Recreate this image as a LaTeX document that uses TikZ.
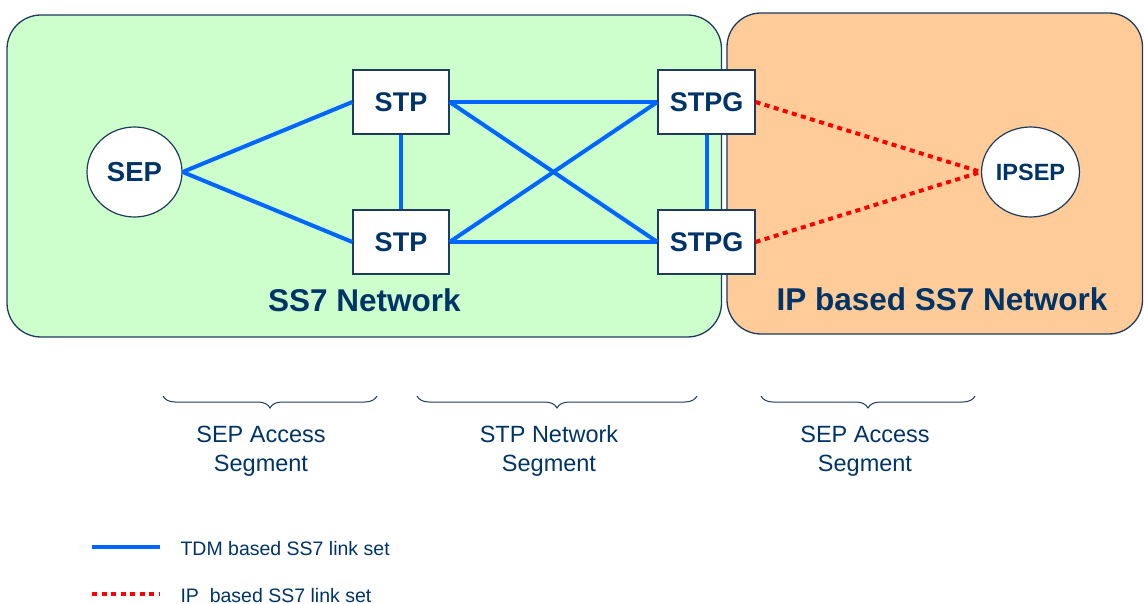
\documentclass[tikz,border=0pt]{standalone}
\usepackage{fontspec}
\setmainfont{Liberation Sans}
\usetikzlibrary{decorations.pathreplacing,shapes.geometric}
\definecolor{navy}{HTML}{003366}
\definecolor{edgec}{HTML}{1F3A5F}
\definecolor{greenfill}{HTML}{CCFFCC}
\definecolor{orangefill}{HTML}{FFCC99}
\definecolor{tdmblue}{HTML}{0066FF}
\definecolor{ipred}{HTML}{FF0000}
\begin{document}
\begin{tikzpicture}[x=1pt,y=-1pt,
  region/.style={draw=edgec,line width=1.3pt,rounded corners=34pt},
  stpbox/.style={draw=edgec,fill=white,line width=1.2pt,minimum width=96pt,minimum height=64pt,inner sep=0pt,font=\fontsize{27}{30}\selectfont\bfseries,text=navy},
  sepnode/.style={draw=edgec,fill=white,line width=1.2pt,ellipse,inner sep=0pt,minimum width=95pt,minimum height=90pt,text=navy},
  tdm/.style={draw=tdmblue,line width=4pt},
  ipl/.style={draw=ipred,line width=4pt,dash pattern=on 5pt off 4.5pt},
  regionlabel/.style={font=\fontsize{31.5}{34}\selectfont\bfseries,text=navy,anchor=base},
  seglabel/.style={font=\fontsize{23.5}{29}\selectfont,text=navy,align=center},
  legendlabel/.style={font=\fontsize{19.5}{22}\selectfont,text=navy,anchor=base west},
  bracestyle/.style={draw=edgec,line width=1pt,decorate,decoration={brace,mirror,amplitude=12pt}}
]
\useasboundingbox (0,0) rectangle (1144,604);
% regions
\draw[region,fill=greenfill] (7,15) rectangle (721.5,337);
\draw[region,fill=orangefill] (727,13) rectangle (1142.5,334);
\node[regionlabel] (ss7lbl) at (364.5,312) {SS7 Network};
\node[regionlabel] (iplbl) at (942,311) {IP based SS7 Network};
% nodes
\node[stpbox] (stp1) at (401,102) {STP};
\node[stpbox] (stp2) at (401,242) {STP};
\node[stpbox,minimum width=97pt] (stpg1) at (706.5,102) {STPG};
\node[stpbox,minimum width=97pt] (stpg2) at (706.5,242) {STPG};
\node[sepnode,font=\fontsize{27.5}{30}\selectfont\bfseries] (sep) at (134.5,172) {SEP};
\node[sepnode,font=\fontsize{23.5}{26}\selectfont\bfseries] (ipsep) at (1030.5,172) {IPSEP};
% TDM links
\draw[tdm] (sep.east) -- (stp1.west);
\draw[tdm] (sep.east) -- (stp2.west);
\draw[tdm] (stp1.south) -- (stp2.north);
\draw[tdm] (stp1.east) -- (stpg1.west);
\draw[tdm] (stp1.east) -- (stpg2.west);
\draw[tdm] (stp2.east) -- (stpg1.west);
\draw[tdm] (stp2.east) -- (stpg2.west);
\draw[tdm] (stpg1.south) -- (stpg2.north);
% IP links
\draw[ipl] (stpg1.east) -- (ipsep.west);
\draw[ipl] (stpg2.east) -- (ipsep.west);
% braces
\coordinate (b1a) at (163,396); \coordinate (b1b) at (377,396);
\coordinate (b2a) at (417,396); \coordinate (b2b) at (697,396);
\coordinate (b3a) at (761,396); \coordinate (b3b) at (975,396);
\draw[bracestyle] (b1a) -- (b1b);
\draw[bracestyle] (b2a) -- (b2b);
\draw[bracestyle] (b3a) -- (b3b);
\node[seglabel] (seg1) at (261,451) {SEP Access\\Segment};
\node[seglabel] (seg2) at (549,451) {STP Network\\Segment};
\node[seglabel] (seg3) at (865,451) {SEP Access\\Segment};
% legend
\coordinate (l1a) at (92,547); \coordinate (l1b) at (160,547);
\coordinate (l2a) at (92,594); \coordinate (l2b) at (160,594);
\draw[tdm] (l1a) -- (l1b);
\draw[ipl] (l2a) -- (l2b);
\node[legendlabel] (leg1) at (177,555) {TDM based SS7 link set};
\node[legendlabel] (leg2) at (177,602) {IP\ \ based SS7 link set};
\end{tikzpicture}
\end{document}
